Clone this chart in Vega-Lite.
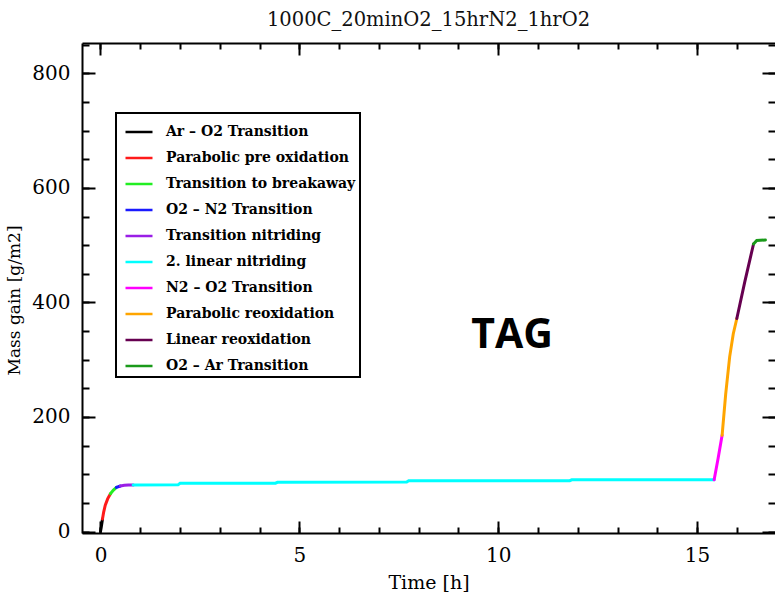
{
  "$schema": "https://vega.github.io/schema/vega-lite/v6.json",
  "width": 693,
  "height": 490,
  "autosize": "none",
  "padding": {"left": 82, "top": 43, "right": 0, "bottom": 62},
  "title": {
    "text": "1000C_20minO2_15hrN2_1hrO2",
    "font": "DejaVu Serif",
    "fontSize": 19.5,
    "fontWeight": "normal",
    "color": "#111111",
    "baseline": "alphabetic",
    "offset": 17,
    "dy": 20
  },
  "datasets": {
    "curve": [
      {"t": 0.0, "m": 0, "phase": "Ar – O2 Transition"},
      {"t": 0.02, "m": 8, "phase": "Ar – O2 Transition"},
      {"t": 0.05, "m": 22, "phase": "Ar – O2 Transition"},
      {"t": 0.05, "m": 22, "phase": "Parabolic pre oxidation"},
      {"t": 0.08, "m": 34, "phase": "Parabolic pre oxidation"},
      {"t": 0.12, "m": 46, "phase": "Parabolic pre oxidation"},
      {"t": 0.18, "m": 57, "phase": "Parabolic pre oxidation"},
      {"t": 0.25, "m": 66, "phase": "Parabolic pre oxidation"},
      {"t": 0.25, "m": 66, "phase": "Transition to breakaway"},
      {"t": 0.32, "m": 72, "phase": "Transition to breakaway"},
      {"t": 0.4, "m": 77, "phase": "Transition to breakaway"},
      {"t": 0.4, "m": 77, "phase": "O2 – N2 Transition"},
      {"t": 0.5, "m": 79.5, "phase": "O2 – N2 Transition"},
      {"t": 0.5, "m": 79.5, "phase": "Transition nitriding"},
      {"t": 0.6, "m": 80.6, "phase": "Transition nitriding"},
      {"t": 0.7, "m": 81.1, "phase": "Transition nitriding"},
      {"t": 0.82, "m": 81.2, "phase": "Transition nitriding"},
      {"t": 0.82, "m": 81.2, "phase": "2. linear nitriding"},
      {"t": 1.95, "m": 81.5, "phase": "2. linear nitriding"},
      {"t": 2.0, "m": 84.2, "phase": "2. linear nitriding"},
      {"t": 4.4, "m": 84.4, "phase": "2. linear nitriding"},
      {"t": 4.45, "m": 85.9, "phase": "2. linear nitriding"},
      {"t": 7.7, "m": 86.4, "phase": "2. linear nitriding"},
      {"t": 7.75, "m": 88.6, "phase": "2. linear nitriding"},
      {"t": 11.8, "m": 88.8, "phase": "2. linear nitriding"},
      {"t": 11.85, "m": 90.3, "phase": "2. linear nitriding"},
      {"t": 15.43, "m": 90.5, "phase": "2. linear nitriding"},
      {"t": 15.43, "m": 90.5, "phase": "N2 – O2 Transition"},
      {"t": 15.53, "m": 128, "phase": "N2 – O2 Transition"},
      {"t": 15.63, "m": 168, "phase": "N2 – O2 Transition"},
      {"t": 15.63, "m": 168, "phase": "Parabolic reoxidation"},
      {"t": 15.72, "m": 240, "phase": "Parabolic reoxidation"},
      {"t": 15.82, "m": 305, "phase": "Parabolic reoxidation"},
      {"t": 15.91, "m": 345, "phase": "Parabolic reoxidation"},
      {"t": 16.0, "m": 372, "phase": "Parabolic reoxidation"},
      {"t": 16.0, "m": 372, "phase": "Linear reoxidation"},
      {"t": 16.2, "m": 436, "phase": "Linear reoxidation"},
      {"t": 16.42, "m": 502, "phase": "Linear reoxidation"},
      {"t": 16.42, "m": 502, "phase": "O2 – Ar Transition"},
      {"t": 16.5, "m": 508, "phase": "O2 – Ar Transition"},
      {"t": 16.72, "m": 509, "phase": "O2 – Ar Transition"}
    ],
    "note": [
      {"t": 10.35, "m": 320.5, "label": "TAG"}
    ]
  },
  "layer": [
    {
      "data": {"name": "curve"},
      "transform": [
        {"filter": {"field": "phase", "oneOf": ["Ar – O2 Transition", "Parabolic pre oxidation", "Transition to breakaway", "O2 – N2 Transition", "Transition nitriding", "2. linear nitriding"]}}
      ],
      "mark": {"type": "line", "strokeWidth": 3, "strokeCap": "round"},
      "encoding": {
        "x": {
          "field": "t", "type": "quantitative",
          "scale": {"domain": [-0.465, 16.96], "nice": false, "zero": false},
          "axis": {
            "orient": "bottom", "values": [0, 5, 10, 15], "tickSize": -12,
            "domain": true, "labelPadding": 24, "title": "Time [h]",
            "titleFontSize": 19, "titlePadding": 8
          }
        },
        "y": {
          "field": "m", "type": "quantitative",
          "scale": {"domain": [-2.6, 853], "nice": false, "zero": false},
          "axis": {
            "orient": "left", "values": [0, 200, 400, 600, 800], "tickSize": -13,
            "domain": true, "labelPadding": 25, "title": "Mass gain [g/m2]",
            "titleFontSize": 17, "titlePadding": 8, "titleY": 257
          }
        },
        "color": {
          "field": "phase", "type": "nominal",
          "scale": {
            "domain": ["Ar – O2 Transition", "Parabolic pre oxidation", "Transition to breakaway", "O2 – N2 Transition", "Transition nitriding", "2. linear nitriding", "N2 – O2 Transition", "Parabolic reoxidation", "Linear reoxidation", "O2 – Ar Transition"],
            "range": ["#000000", "#ff1a1a", "#22ee22", "#1a1aff", "#9a1ee6", "#00ffff", "#ff00ff", "#ffa500", "#660050", "#1a9a1a"]
          },
          "legend": {"orient": "none", "legendX": 34, "legendY": 70, "title": null}
        }
      }
    },
    {
      "data": {"name": "note"},
      "mark": {"type": "text", "font": "Open Sans", "fontSize": 41, "fontWeight": "bold", "baseline": "alphabetic", "align": "center", "color": "#000000"},
      "encoding": {
        "x": {
          "field": "t", "type": "quantitative",
          "scale": {"domain": [-0.465, 16.96], "nice": false, "zero": false},
          "axis": {"orient": "bottom", "values": [0, 1, 2, 3, 4, 5, 6, 7, 8, 9, 10, 11, 12, 13, 14, 15, 16], "tickSize": -6, "labels": false, "title": null}
        },
        "y": {
          "field": "m", "type": "quantitative",
          "scale": {"domain": [-2.6, 853], "nice": false, "zero": false},
          "axis": {"orient": "left", "values": [0, 50, 100, 150, 200, 250, 300, 350, 400, 450, 500, 550, 600, 650, 700, 750, 800, 850], "tickSize": -7, "labels": false, "title": null}
        },
        "text": {"field": "label", "type": "nominal"}
      }
    },
    {
      "data": {"name": "curve"},
      "transform": [
        {"filter": {"field": "phase", "oneOf": ["N2 – O2 Transition", "Parabolic reoxidation", "Linear reoxidation"]}}
      ],
      "mark": {"type": "line", "strokeWidth": 3, "strokeCap": "round"},
      "encoding": {
        "x": {
          "field": "t", "type": "quantitative",
          "scale": {"domain": [-0.465, 16.96], "nice": false, "zero": false},
          "axis": {"orient": "top", "values": [0, 5, 10, 15], "tickSize": -12, "domain": true, "labels": false, "title": null}
        },
        "y": {
          "field": "m", "type": "quantitative",
          "scale": {"domain": [-2.6, 853], "nice": false, "zero": false},
          "axis": {"orient": "right", "values": [0, 200, 400, 600, 800], "tickSize": -13, "labels": false, "title": null}
        },
        "color": {"field": "phase", "type": "nominal"}
      }
    },
    {
      "data": {"name": "curve"},
      "transform": [
        {"filter": {"field": "phase", "equal": "O2 – Ar Transition"}}
      ],
      "mark": {"type": "line", "strokeWidth": 3, "strokeCap": "round"},
      "encoding": {
        "x": {
          "field": "t", "type": "quantitative",
          "scale": {"domain": [-0.465, 16.96], "nice": false, "zero": false},
          "axis": {"orient": "top", "values": [0, 1, 2, 3, 4, 5, 6, 7, 8, 9, 10, 11, 12, 13, 14, 15, 16], "tickSize": -6, "labels": false, "title": null}
        },
        "y": {
          "field": "m", "type": "quantitative",
          "scale": {"domain": [-2.6, 853], "nice": false, "zero": false},
          "axis": {"orient": "right", "values": [0, 50, 100, 150, 200, 250, 300, 350, 400, 450, 500, 550, 600, 650, 700, 750, 800, 850], "tickSize": -7, "labels": false, "title": null}
        },
        "color": {"field": "phase", "type": "nominal"}
      }
    }
  ],
  "resolve": {"axis": {"x": "independent", "y": "independent"}},
  "config": {
    "view": {"stroke": null},
    "axis": {
      "grid": false,
      "domain": false,
      "domainColor": "#000000",
      "domainWidth": 2,
      "tickColor": "#000000",
      "tickWidth": 2,
      "labelFont": "DejaVu Serif",
      "labelFontSize": 20,
      "labelColor": "#000000",
      "titleFont": "DejaVu Serif",
      "titleFontWeight": "normal",
      "titleColor": "#000000"
    },
    "legend": {
      "symbolType": "stroke",
      "symbolSize": 729,
      "symbolStrokeWidth": 2.5,
      "symbolOffset": 4,
      "labelFont": "DejaVu Serif",
      "labelFontSize": 14,
      "labelFontWeight": "bold",
      "labelColor": "#000000",
      "labelOffset": 12,
      "rowPadding": 4,
      "padding": 4,
      "strokeColor": "#000000",
      "strokeWidth": 2,
      "fillColor": "#ffffff",
      "labelLimit": 400
    }
  }
}
